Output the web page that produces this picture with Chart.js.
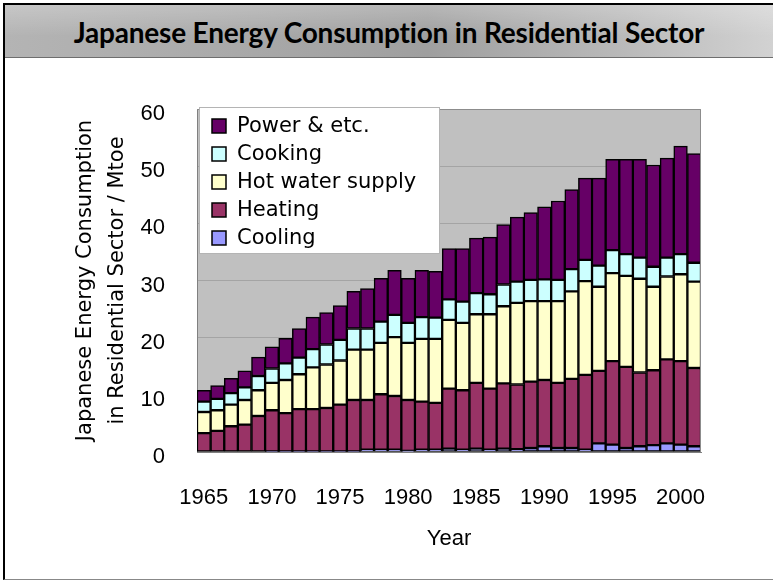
<!DOCTYPE html>
<html>
<head>
<meta charset="utf-8">
<title>Japanese Energy Consumption in Residential Sector</title>
<script src="https://cdn.jsdelivr.net/npm/chart.js@4.4.1/dist/chart.umd.min.js"></script>
<style>
  html, body { margin: 0; padding: 0; background: #fff; }
  #slide { position: relative; width: 773px; height: 582px; overflow: hidden; }
  #frame {
    position: absolute; left: 3px; top: 3px; width: 790px; height: 577px;
    border-left: 2px solid #000; border-top: 2px solid #000; border-bottom: 1px solid #888;
    box-sizing: border-box;
  }
  #banner {
    position: absolute; left: 5px; top: 5px; width: 768px; height: 52px;
    background:
      linear-gradient(to bottom, rgba(255,255,255,0.25), rgba(255,255,255,0) 60%),
      linear-gradient(to right, #b4b4b4 0%, #a9a9a9 30%, #9f9f9f 55%, #b9b9b9 80%, #d2d2d2 100%);
    border-bottom: 1px solid #6e6e6e;
  }
  #banner h1 {
    margin: 0; font: bold 28px Lato, "Open Sans", sans-serif; line-height: 54px;
    text-align: center; color: #000; letter-spacing: -0.2px;
  }
  canvas { position: absolute; left: 0; top: 0; }
</style>
</head>
<body>
<div id="slide">
  <div id="frame"></div>
  <div id="banner"><h1>Japanese Energy Consumption in Residential Sector</h1></div>
  <canvas id="energyChart" width="773" height="582"></canvas>
</div>
<script>
// values, Mtoe, one per year
const years = [1965, 1966, 1967, 1968, 1969, 1970, 1971, 1972, 1973, 1974,
  1975, 1976, 1977, 1978, 1979, 1980, 1981, 1982, 1983, 1984,
  1985, 1986, 1987, 1988, 1989, 1990, 1991, 1992, 1993, 1994,
  1995, 1996, 1997, 1998, 1999, 2000, 2001];

const cooling = [0, 0, 0, 0, 0, 0.1, 0.1, 0.1, 0.1, 0.1,
  0.1, 0.1, 0.4, 0.4, 0.4, 0.2, 0.4, 0.4, 0.6, 0.4,
  0.6, 0.4, 0.6, 0.5, 0.7, 1.0, 0.7, 0.7, 0.4, 1.5,
  1.3, 0.7, 1.0, 1.2, 1.5, 1.3, 1.0];

const heating = [3.3, 3.7, 4.5, 4.8, 6.3, 7.2, 6.7, 7.4, 7.4, 7.6,
  8.2, 9.0, 8.7, 9.7, 9.4, 8.9, 8.4, 8.2, 10.5, 10.4,
  11.5, 10.7, 11.4, 11.3, 11.6, 11.6, 11.4, 12.1, 13.1, 12.7,
  14.6, 14.2, 12.9, 13.1, 14.7, 14.6, 13.7];

const hotWater = [3.7, 3.6, 3.8, 4.3, 4.5, 4.8, 5.8, 6.1, 7.3, 7.6,
  7.7, 8.8, 8.8, 9.0, 10.3, 10.0, 11.0, 11.2, 12.0, 11.8,
  12.0, 13.0, 13.5, 14.3, 14.1, 13.8, 14.3, 15.3, 16.4, 14.7,
  15.4, 15.9, 16.4, 14.6, 14.5, 15.2, 15.1];

const cooking = [1.8, 2.0, 2.0, 2.2, 2.5, 2.5, 2.9, 2.9, 3.2, 3.5,
  3.6, 3.7, 3.7, 3.7, 3.9, 3.5, 3.8, 3.7, 3.6, 3.7,
  3.7, 3.5, 3.8, 3.7, 3.7, 3.8, 3.7, 3.9, 3.7, 3.7,
  4.0, 3.8, 3.7, 3.5, 3.3, 3.5, 3.3];

const power = [2.0, 2.3, 2.6, 2.9, 3.3, 3.8, 4.4, 5.1, 5.6, 5.6,
  6.0, 6.5, 7.0, 7.6, 7.8, 7.8, 8.2, 8.1, 8.9, 9.3,
  9.6, 10.0, 10.5, 11.3, 11.8, 12.7, 13.8, 13.9, 14.3, 15.3,
  15.9, 16.6, 17.2, 17.8, 17.4, 18.9, 19.1];

const yearTicks = [1965, 1970, 1975, 1980, 1985, 1990, 1995, 2000];

const tickFont = { family: "'Liberation Sans', Arial, sans-serif", size: 22 };
const labelFont = "'DejaVu Sans', sans-serif";

// grey plot area + thin frame on top/right
const plotBackground = {
  id: "plotBackground",
  beforeDraw(chart) {
    const { ctx, chartArea: a } = chart;
    ctx.save();
    ctx.fillStyle = "#c0c0c0";
    ctx.fillRect(a.left, a.top, a.width, a.height);
    ctx.restore();
  },
  afterDatasetsDraw(chart) {
    const { ctx, chartArea: a } = chart;
    ctx.save();
    ctx.strokeStyle = "#8c8c8c";
    ctx.lineWidth = 1;
    ctx.beginPath();
    ctx.moveTo(a.left, a.top + 0.5);
    ctx.lineTo(a.right - 0.5, a.top + 0.5);
    ctx.lineTo(a.right - 0.5, a.bottom);
    ctx.stroke();
    ctx.restore();
  },
};

// legend drawn as a white box over the top-left of the plot
const legendBox = {
  id: "legendBox",
  afterDraw(chart) {
    const ctx = chart.ctx;
    ctx.save();
    ctx.fillStyle = "#fff";
    ctx.fillRect(199, 107, 241, 147);
    ctx.strokeStyle = "#b4b4b4";
    ctx.lineWidth = 1;
    ctx.strokeRect(199.5, 107.5, 240, 146);

    const items = chart.data.datasets.slice().reverse();
    ctx.font = "21px " + labelFont;
    ctx.textBaseline = "middle";
    items.forEach((ds, i) => {
      const cy = 126 + i * 28;
      ctx.fillStyle = ds.backgroundColor;
      ctx.fillRect(212, cy - 7, 14, 14);
      ctx.strokeStyle = "#000";
      ctx.lineWidth = 1.5;
      ctx.strokeRect(212, cy - 7, 14, 14);
      ctx.fillStyle = "#000";
      ctx.fillText(ds.label, 237, cy + 1);
    });
    ctx.restore();
  },
};

new Chart(document.getElementById("energyChart"), {
  type: "bar",
  data: {
    labels: years,
    datasets: [
      { label: "Cooling", data: cooling, backgroundColor: "#9999ff" },
      { label: "Heating", data: heating, backgroundColor: "#993366" },
      { label: "Hot water supply", data: hotWater, backgroundColor: "#ffffcc" },
      { label: "Cooking", data: cooking, backgroundColor: "#ccffff" },
      { label: "Power & etc.", data: power, backgroundColor: "#660066" },
    ],
  },
  options: {
    responsive: false,
    animation: false,
    layout: { padding: { left: 69, top: 109, right: 72, bottom: 30 } },
    datasets: {
      bar: {
        categoryPercentage: 1,
        barPercentage: 1,
        borderColor: "#000",
        borderWidth: 1.5,
        borderSkipped: false,
      },
    },
    plugins: {
      legend: { display: false },
      tooltip: { enabled: false },
    },
    scales: {
      x: {
        stacked: true,
        grid: { display: false, drawTicks: false, tickLength: 0 },
        border: { color: "#808080" },
        ticks: {
          autoSkip: false,
          maxRotation: 0,
          padding: 33,
          color: "#000",
          font: tickFont,
          callback(value, index) {
            const y = years[index];
            return yearTicks.includes(y) ? String(y) : "";
          },
        },
        title: {
          display: true,
          text: "Year",
          color: "#000",
          font: tickFont,
          padding: { top: 0, bottom: 0 },
        },
        afterFit(scale) {
          scale.height = 100;
        },
      },
      y: {
        stacked: true,
        min: 0,
        max: 60,
        grid: { color: "#a4a4a4", drawTicks: false, tickLength: 0 },
        border: { color: "#808080" },
        ticks: {
          stepSize: 10,
          padding: 32,
          labelOffset: 5,
          color: "#000",
          font: tickFont,
        },
        title: {
          display: true,
          text: ["Japanese Energy Consumption", "in Residential Sector / Mtoe"],
          color: "#000",
          font: { family: labelFont, size: 21, lineHeight: 1.55 },
          padding: 0,
        },
        afterFit(scale) {
          scale.width = 128;
        },
      },
    },
  },
  plugins: [plotBackground, legendBox],
});
</script>
</body>
</html>
